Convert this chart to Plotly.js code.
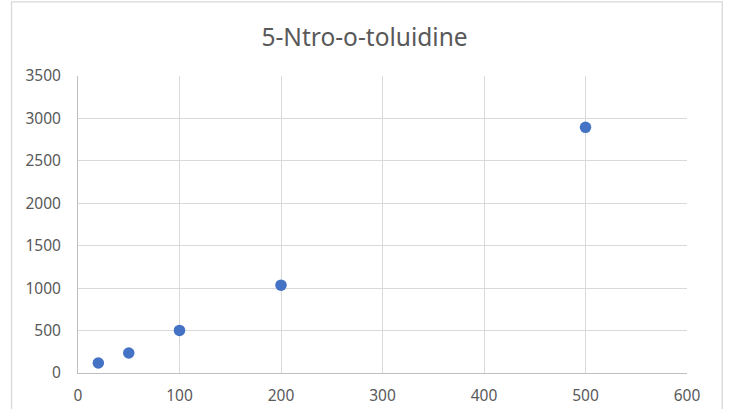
<!DOCTYPE html>
<html>
<head>
<meta charset="utf-8">
<script src="https://cdn.plot.ly/plotly-3.0.1.min.js"></script>
<style>html,body{margin:0;padding:0;background:#fff;}#chart{width:729px;height:409px;}</style>
</head>
<body>
<div id="chart"></div>
<script>
const concentrations = [20, 50, 100, 200, 500];
const responses = [118, 236, 502, 1035, 2895];
const chartTitle = "5-Ntro-o-toluidine";

const fontFam = "Noto Sans, Open Sans, sans-serif";
Plotly.newPlot("chart", [{
  x: concentrations,
  y: responses,
  type: "scatter",
  mode: "markers",
  marker: {color: "#4472C4", size: 11.5},
  hoverinfo: "x+y"
}], {
  width: 729, height: 409,
  margin: {l: 77.5, r: 42.3, t: 76, b: 36.3},
  paper_bgcolor: "#fff", plot_bgcolor: "#fff",
  showlegend: false,
  title: {text: chartTitle, x: 0.5, xanchor: "center", y: 1 - 37/409, yanchor: "middle",
    font: {family: fontFam, size: 24.5, color: "#595959"}},
  xaxis: {range: [0, 600], dtick: 100, tick0: 0, showgrid: true, gridcolor: "#D9D9D9", gridwidth: 1,
    zeroline: false, showline: true, linecolor: "#BFBFBF", linewidth: 1, mirror: false,
    ticks: "outside", ticklen: 8, tickcolor: "rgba(0,0,0,0)",
    tickfont: {family: fontFam, size: 15.5, color: "#595959"}, fixedrange: true},
  yaxis: {range: [0, 3500], dtick: 500, tick0: 0, showgrid: true, gridcolor: "#D9D9D9", gridwidth: 1,
    zeroline: false, showline: true, linecolor: "#BFBFBF", linewidth: 1,
    ticks: "outside", ticklen: 13, tickcolor: "rgba(0,0,0,0)",
    tickfont: {family: fontFam, size: 15.5, color: "#595959"}, fixedrange: true},
  shapes: [{type: "rect", xref: "paper", yref: "paper",
    x0: (11 - 77.5) / 609.2, x1: (722 - 77.5) / 609.2,
    y0: (372.7 - 412) / 296.7, y1: (372.7 - 2) / 296.7,
    line: {color: "#D9D9D9", width: 1.3}, fillcolor: "rgba(0,0,0,0)", layer: "below"}]
}, {displayModeBar: false, staticPlot: true});
</script>
</body>
</html>
